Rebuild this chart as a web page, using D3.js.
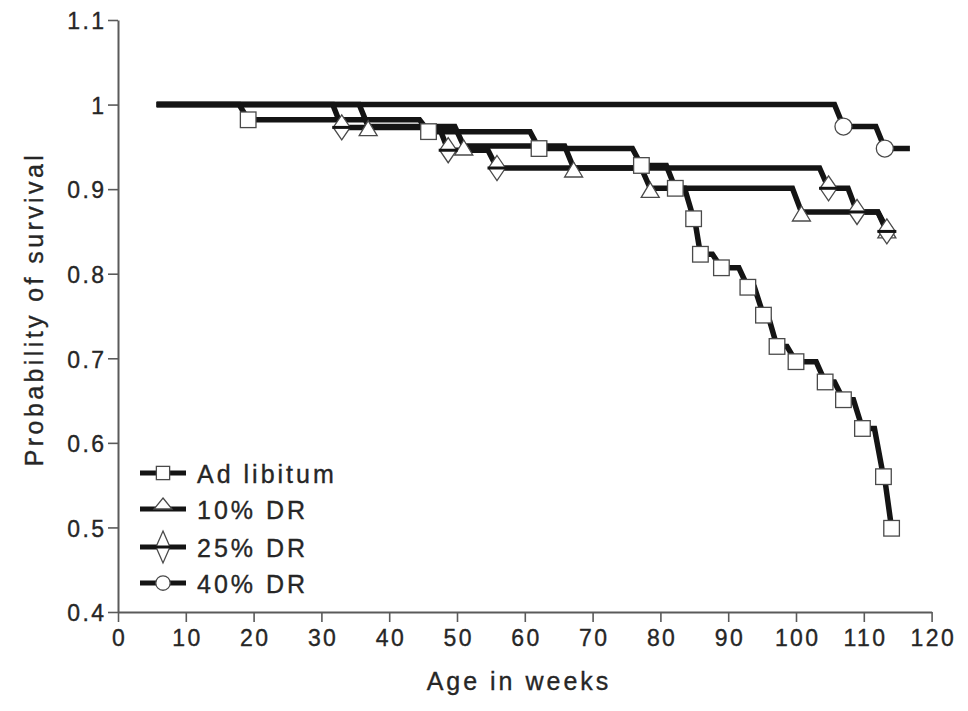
<!DOCTYPE html>
<html>
<head>
<meta charset="utf-8">
<script src="https://cdn.jsdelivr.net/npm/d3@7"></script>
<style>
  html, body { margin: 0; padding: 0; background: #fff; }
  svg { display: block; }
  text { font-family: "Liberation Sans", Arial, Helvetica, sans-serif; fill: #262626; stroke: #262626; stroke-width: 0.35px; }
</style>
</head>
<body>
<svg id="chart" width="968" height="711"></svg>
<script>
// Kaplan–Meier survival curves: weeks of each death event and survival after it
const startWeek = 5.7;

const adLibWeeks = [19.2, 45.8, 62.1, 77.2, 82.2, 84.9, 85.9, 89.0, 92.9, 95.2, 97.2, 100.0, 104.3, 107.0, 109.8, 112.9, 114.1];
const adLibSurv  = [0.982, 0.968, 0.948, 0.928, 0.901, 0.865, 0.823, 0.807, 0.784, 0.751, 0.714, 0.696, 0.672, 0.651, 0.617, 0.560, 0.499];
const adLibEnd = 114.1;

const dr10Weeks = [36.9, 51.0, 67.2, 78.5, 100.8, 113.4];
const dr10Surv  = [0.974, 0.951, 0.925, 0.901, 0.873, 0.853];
const dr10End = 114.2;

const dr25Weeks = [33.0, 48.7, 55.9, 104.8, 109.0, 113.4];
const dr25Surv  = [0.973, 0.946, 0.925, 0.901, 0.873, 0.850];
const dr25End = 114.0;

const dr40Weeks = [107.0, 113.1];
const dr40Surv  = [0.974, 0.948];
const dr40End = 116.8;

const seriesNames = ["Ad libitum", "10% DR", "25% DR", "40% DR"];
const seriesShapes = ["square", "triangle", "diamond", "circle"];

const xTicks = [0, 10, 20, 30, 40, 50, 60, 70, 80, 90, 100, 110, 120];
const yTicks = [0.4, 0.5, 0.6, 0.7, 0.8, 0.9, 1, 1.1];

const xTitle = "Age in weeks";
const yTitle = "Probability of survival";

const series = [
  { name: seriesNames[0], shape: seriesShapes[0], weeks: adLibWeeks, surv: adLibSurv, end: adLibEnd },
  { name: seriesNames[1], shape: seriesShapes[1], weeks: dr10Weeks, surv: dr10Surv, end: dr10End },
  { name: seriesNames[2], shape: seriesShapes[2], weeks: dr25Weeks, surv: dr25Surv, end: dr25End },
  { name: seriesNames[3], shape: seriesShapes[3], weeks: dr40Weeks, surv: dr40Surv, end: dr40End }
];

const svg = d3.select("#chart");

const x = d3.scaleLinear().domain([0, 120]).range([118, 931.6]);
const y = d3.scaleLinear().domain([0.4, 1.1]).range([612, 20]);

const axisColor = "#5a5a5a";
const lineColor = "#141414";

// Axes
const xAxis = svg.append("g")
  .attr("transform", `translate(0,${y(0.4)})`)
  .call(d3.axisBottom(x).tickValues(xTicks).tickSize(10).tickSizeOuter(0).tickFormat(d3.format("d")));
const yAxis = svg.append("g")
  .attr("transform", `translate(${x(0)},0)`)
  .call(d3.axisLeft(y).tickValues(yTicks).tickSize(10).tickSizeOuter(0).tickFormat(d => d3.format("")(d)));

[xAxis, yAxis].forEach(g => {
  g.select(".domain").attr("stroke", axisColor).attr("stroke-width", 2);
  g.selectAll(".tick line").attr("stroke", axisColor).attr("stroke-width", 1.6);
  g.selectAll(".tick text")
    .attr("font-size", 23)
    .attr("letter-spacing", "2.4px")
    .attr("fill", "#262626");
});
xAxis.selectAll(".tick text").attr("y", 18).attr("dy", "0.71em").attr("dx", "1.2px");
yAxis.selectAll(".tick text").attr("x", -14).attr("dy", "0.38em").attr("dx", "2.4px");

// Axis titles
svg.append("text")
  .attr("x", 519).attr("y", 690)
  .attr("text-anchor", "middle")
  .attr("font-size", 25)
  .attr("letter-spacing", "3px")
  .text(xTitle);

svg.append("text")
  .attr("transform", `translate(43,309) rotate(-90)`)
  .attr("text-anchor", "middle")
  .attr("font-size", 25)
  .attr("letter-spacing", "3.4px")
  .text(yTitle);

// Step path with a short slanted drop into each event
function kmPath(s) {
  let px = x(startWeek);
  let d = `M${px},${y(1)}`;
  s.weeks.forEach((w, i) => {
    const xi = x(w);
    const slant = Math.min(9, Math.max(0, xi - px - 1));
    d += `H${xi - slant}L${xi},${y(s.surv[i])}`;
    px = xi;
  });
  d += `H${x(s.end)}`;
  return d;
}

svg.append("g").selectAll("path")
  .data(series)
  .join("path")
  .attr("d", kmPath)
  .attr("fill", "none")
  .attr("stroke", lineColor)
  .attr("stroke-width", 5.5)
  .attr("stroke-linejoin", "miter");

// Marker drawing
function drawMarker(g, shape, cx, cy, scale) {
  const k = scale || 1;
  const common = sel => sel.attr("fill", "#fff").attr("stroke", "#4a4a4a").attr("stroke-width", 1.3);
  if (shape === "square") {
    const h = 7.8 * k;
    common(g.append("rect").attr("x", cx - h).attr("y", cy - h).attr("width", 2 * h).attr("height", 2 * h));
  } else if (shape === "circle") {
    common(g.append("circle").attr("cx", cx).attr("cy", cy).attr("r", 8.5 * k));
  } else if (shape === "triangle") {
    const w = 9 * k, up = 6 * k, dn = 9 * k;
    common(g.append("path").attr("d", `M${cx},${cy - up}L${cx + w},${cy + dn}L${cx - w},${cy + dn}Z`));
  } else if (shape === "diamond") {
    const w = 8.5 * k, hh = 12.5 * k;
    common(g.append("path").attr("d", `M${cx},${cy - hh}L${cx + w},${cy}L${cx},${cy + hh}L${cx - w},${cy}Z`));
    g.append("line")
      .attr("x1", cx - w - 1).attr("x2", cx + w + 1)
      .attr("y1", cy).attr("y2", cy)
      .attr("stroke", lineColor).attr("stroke-width", 3);
  }
}

const markers = svg.append("g");
series.forEach(s => {
  s.weeks.forEach((w, i) => drawMarker(markers, s.shape, x(w), y(s.surv[i])));
});

// Legend
const legendRows = [473, 509, 547, 583];
const legend = svg.append("g");
series.forEach((s, i) => {
  const cy = legendRows[i];
  legend.append("line")
    .attr("x1", 140).attr("x2", 186)
    .attr("y1", cy).attr("y2", cy)
    .attr("stroke", lineColor).attr("stroke-width", 5);
  if (s.shape === "triangle") {
    legend.append("path")
      .attr("d", `M163,${cy - 11}L172,${cy}L154,${cy}Z`)
      .attr("fill", "#fff").attr("stroke", "#4a4a4a").attr("stroke-width", 1.3);
  } else if (s.shape === "diamond") {
    legend.append("path")
      .attr("d", `M163,${cy - 16}L170,${cy}L163,${cy + 16}L156,${cy}Z`)
      .attr("fill", "#fff").attr("stroke", "#4a4a4a").attr("stroke-width", 1.3);
    legend.append("line").attr("x1", 154).attr("x2", 172).attr("y1", cy).attr("y2", cy)
      .attr("stroke", lineColor).attr("stroke-width", 3);
  } else {
    drawMarker(legend, s.shape, 163, cy, 0.85);
  }
  legend.append("text")
    .attr("x", 197).attr("y", cy + 10)
    .attr("font-size", 25)
    .attr("letter-spacing", "3px")
    .text(s.name);
});
</script>
</body>
</html>
